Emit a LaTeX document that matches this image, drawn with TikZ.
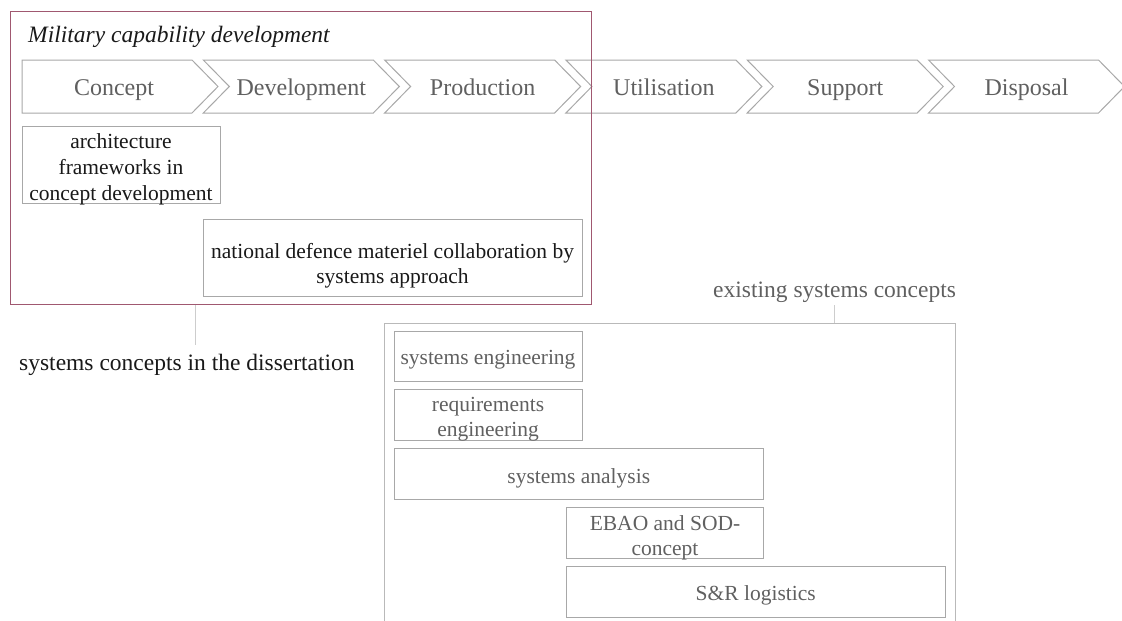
\documentclass[tikz,border=0pt]{standalone}
\usepackage{fontspec}
\setmainfont{Liberation Serif}

\definecolor{frameRed}{RGB}{160,88,112}
\definecolor{edge}{RGB}{168,168,168}
\definecolor{stepText}{RGB}{96,96,96}
\definecolor{outerEdge}{RGB}{185,185,185}
\definecolor{lead}{RGB}{205,205,205}
\definecolor{ink}{RGB}{25,25,25}

\tikzset{
  chev/.style={draw=edge, line width=1pt, fill=white},
  chevlabel/.style={font=\fontsize{24}{28}\selectfont, text=stepText, anchor=base, inner sep=0pt},
  boxshape/.style={draw=edge, line width=1pt, inner sep=0pt},
  boxtext/.style={inner sep=0pt, align=center, font=\fontsize{21.5}{25.8}\selectfont},
  darktext/.style={boxtext, text=ink},
  greytext/.style={boxtext, text=stepText},
  leader/.style={draw=lead, line width=1pt},
  caption/.style={font=\fontsize{23.5}{28}\selectfont, anchor=base west, inner sep=0pt},
}

\begin{document}
\begin{tikzpicture}[x=1pt,y=-1pt]
\useasboundingbox (0,0) rectangle (1122,621);

\node[caption, font=\fontsize{23.5}{28}\itshape\selectfont, text=ink] (title) at (28,42)
     {Military capability development};

% life-cycle stages
\draw[chev] (22,60) -- (192,60) -- (218,86.5) -- (192,113) -- (22,113) -- cycle;
\node[chevlabel] (concept) at (114,95) {Concept};
\foreach \i/\nm/\lbl in {1/dev/Development, 2/prod/Production, 3/util/Utilisation,
                         4/supp/Support, 5/disp/Disposal} {
  \pgfmathsetmacro\xo{22+181.3*\i}
  \draw[chev] (\xo,60) -- ++(170,0) -- ++(26,26.5) -- ++(-26,26.5) -- ++(-170,0)
              -- ++(26,-26.5) -- cycle;
  \node[chevlabel] (\nm) at (\xo+98,95) {\lbl};
}

% capability development frame, drawn over the stage arrows
\node[draw=frameRed, line width=1.3pt, minimum width=581pt, minimum height=293pt,
      inner sep=0pt, anchor=north west] (frame) at (10,11) {};

% concepts of the dissertation
\node[boxshape, minimum width=198pt, minimum height=77pt] (arch) at (121,164.5) {};
\node[darktext] (archText) at ([yshift=-5pt]arch.center)
     {architecture\\frameworks in\\concept development};
\node[boxshape, minimum width=379pt, minimum height=77.5pt] (nat) at (392.5,257.75) {};
\node[darktext] (natText) at ([yshift=-8pt]nat.center)
     {national defence materiel collaboration by\\systems approach};

\node[caption, text=ink] (diss) at (19,370) {systems concepts in the dissertation};
\coordinate (dissTop) at (195,345);
\draw[leader] (frame.south -| dissTop) -- (dissTop);

% existing systems concepts
\node[caption, text=stepText] (exist) at (713,297) {existing systems concepts};
\coordinate (existFoot) at (834,305);
\coordinate (boxTL) at (384,323);
\coordinate (boxTR) at (955,323);
\draw[draw=outerEdge, line width=1pt] (384,621) -- (boxTL) -- (boxTR) -- (955,621);
\draw[leader] (existFoot) -- (existFoot |- boxTL);

\node[boxshape, minimum width=188pt, minimum height=50.5pt] (se) at (488,356.25) {};
\node[greytext] (seText) at ([yshift=-3.5pt]se.center) {systems engineering};
\node[boxshape, minimum width=188pt, minimum height=50.5pt] (re) at (488,414.75) {};
\node[greytext] (reText) at ([yshift=-4.5pt]re.center) {requirements\\engineering};
\node[boxshape, minimum width=369.5pt, minimum height=50.5pt] (sa) at (578.75,473.75) {};
\node[greytext] (saText) at ([yshift=-4.5pt]sa.center) {systems analysis};
\node[boxshape, minimum width=197pt, minimum height=50.5pt] (ebao) at (665,532.75) {};
\node[greytext] (ebaoText) at ([yshift=-5pt]ebao.center) {EBAO and SOD-\\concept};
\node[boxshape, minimum width=378.5pt, minimum height=51pt] (sr) at (755.75,591.5) {};
\node[greytext] (srText) at ([yshift=-3.5pt]sr.center) {S\&R logistics};
\end{tikzpicture}
\end{document}
